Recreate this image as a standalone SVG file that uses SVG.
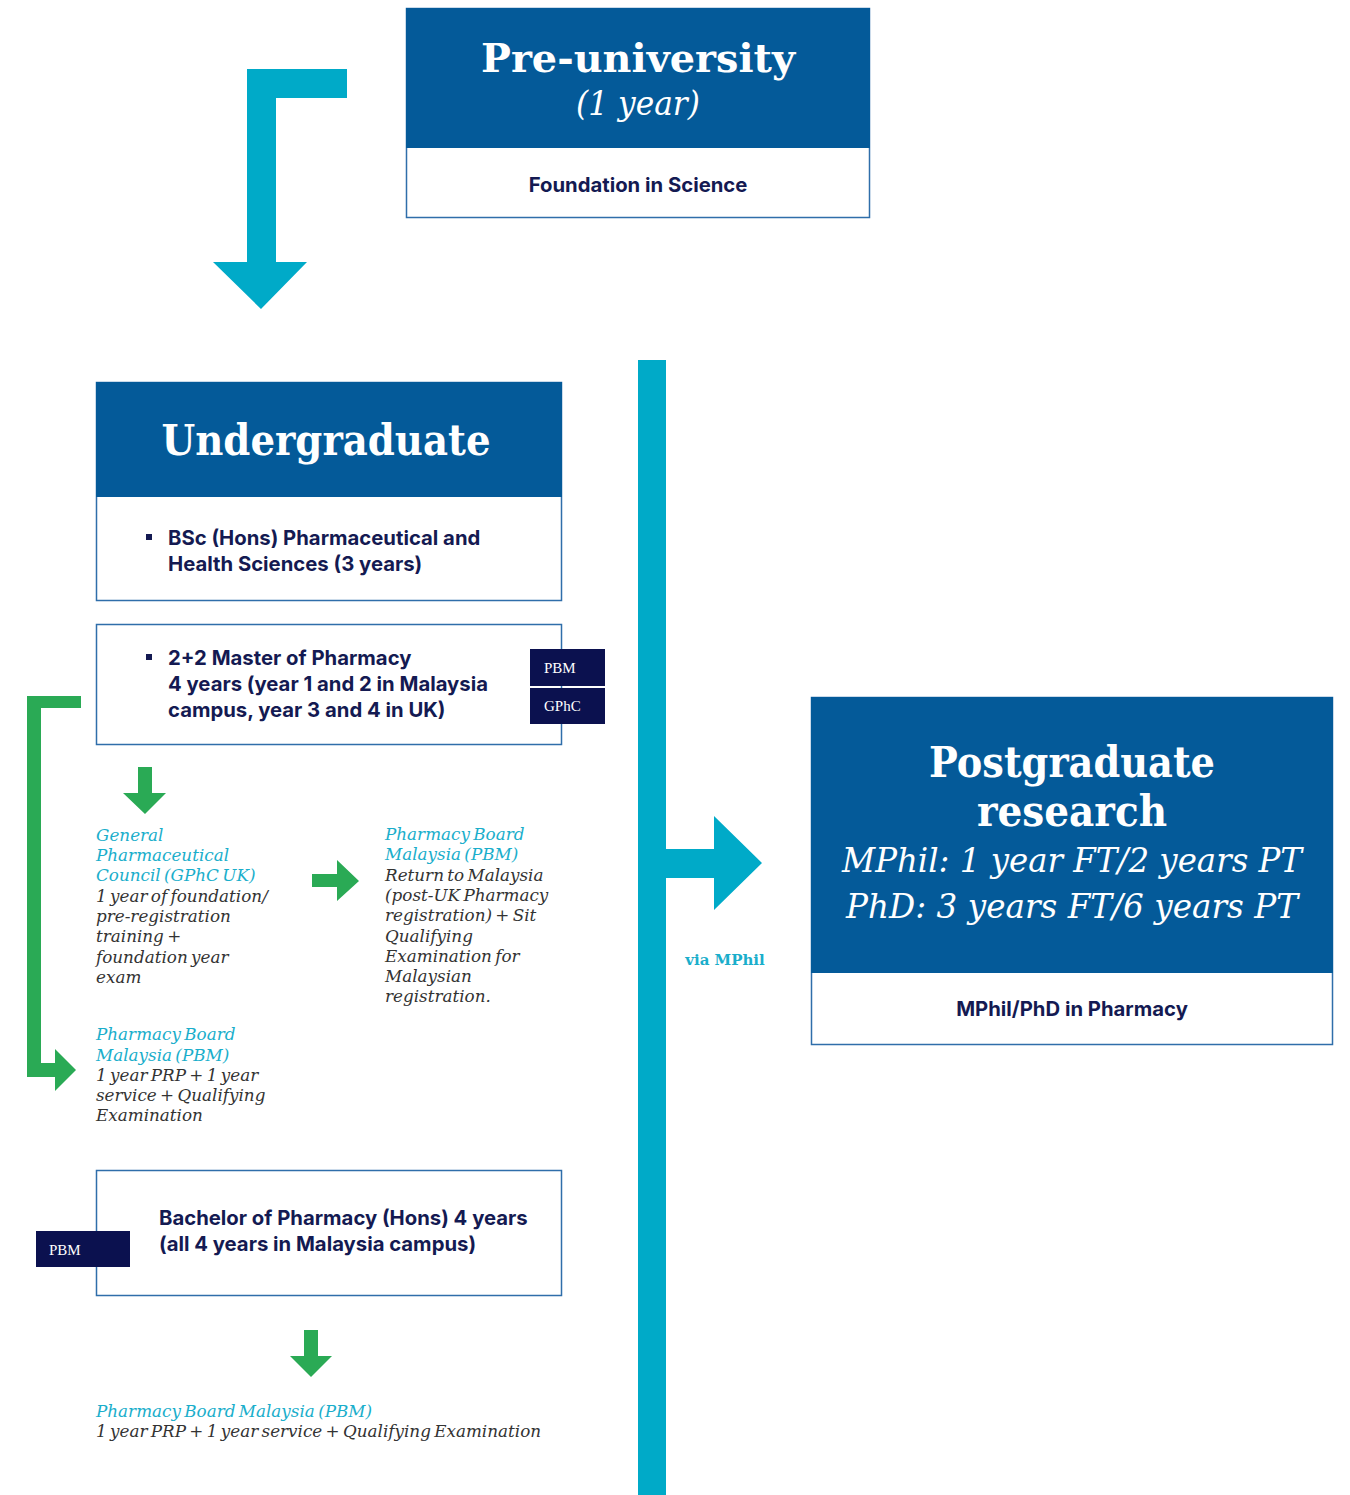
<svg xmlns="http://www.w3.org/2000/svg" width="1350" height="1495" viewBox="0 0 1350 1495">
<style>
.hdr{fill:#045a99}
.box{fill:#fff;stroke:#2f6eaa;stroke-width:1.5}
.title{font-family:"DejaVu Serif",serif;font-weight:bold;fill:#fff;text-anchor:middle}
.sub{font-family:"DejaVu Serif",serif;font-style:italic;fill:#fff;text-anchor:middle}
.body{font-family:Inter,"Noto Sans",sans-serif;font-weight:700;fill:#141a52;font-size:20.3px}
.badge{fill:#0b114f}
.btxt{font-family:"Liberation Serif",serif;fill:#fff;font-size:15px}
.it{font-family:"DejaVu Serif",serif;font-style:italic;font-size:16.8px;word-spacing:-2px}
.cy{fill:#1aaecb}
.dk{fill:#333}
.cyan{fill:#00aac8}
.green{fill:#2aaa55}
</style>

<g id="connectors">
  <path class="cyan" d="M247,69 H347 V98 H276 V262 H307 L261,309 L213,262 H247 Z"/>
  <rect class="cyan" x="638" y="360" width="28" height="1135"/>
  <path class="cyan" d="M666,849 H714 V816 L762,863 L714,910 V878 H666 Z"/>
  <path class="green" d="M27,696 H81 V708 H41 V1063 H55 V1049 L76,1070 L55,1091 V1077 H27 Z"/>
  <path class="green" d="M138,767 H152 V793 H166 L145,814 L123,793 H138 Z"/>
  <path class="green" d="M312,874 H337 V860 L359,881 L337,901 V887 H312 Z"/>
  <path class="green" d="M304,1330 H318 V1356 H332 L311,1377 L290,1356 H304 Z"/>
  <text x="725" y="965" font-family="DejaVu Serif,serif" font-weight="bold" font-size="15" fill="#1aaecb" text-anchor="middle">via MPhil</text>
</g>

<g id="pre-university">
  <rect class="box" x="406.5" y="8.5" width="463" height="209"/>
  <rect class="hdr" x="406" y="8" width="464" height="140"/>
  <text class="title" x="638" y="72" font-size="40" textLength="314" lengthAdjust="spacingAndGlyphs">Pre-university</text>
  <text class="sub" x="638" y="115" font-size="33" textLength="124" lengthAdjust="spacingAndGlyphs">(1 year)</text>
  <text class="body" x="638" y="192" text-anchor="middle">Foundation in Science</text>
</g>

<g id="undergraduate">
  <rect class="box" x="96.5" y="382.5" width="465" height="218"/>
  <rect class="hdr" x="96" y="382" width="466" height="115"/>
  <text class="title" x="326" y="455" font-size="42" textLength="329" lengthAdjust="spacingAndGlyphs">Undergraduate</text>
  <rect x="146" y="534" width="6" height="6" fill="#141a52"/>
  <text class="body" x="168" y="545">BSc (Hons) Pharmaceutical and</text>
  <text class="body" x="168" y="571">Health Sciences (3 years)</text>
</g>

<g id="master">
  <rect class="box" x="96.5" y="624.5" width="465" height="120"/>
  <rect x="146" y="654" width="6" height="6" fill="#141a52"/>
  <text class="body" x="168" y="665">2+2 Master of Pharmacy</text>
  <text class="body" x="168" y="691">4 years (year 1 and 2 in Malaysia</text>
  <text class="body" x="168" y="717">campus, year 3 and 4 in UK)</text>
</g>

<g id="badge-pbm-1">
  <rect class="badge" x="530" y="649" width="75" height="37"/>
  <text class="btxt" x="544" y="673">PBM</text>
</g>
<g id="badge-gphc">
  <rect class="badge" x="530" y="688" width="75" height="36"/>
  <text class="btxt" x="544" y="711">GPhC</text>
</g>

<g id="gphc-uk">
  <text class="it cy" x="96" y="841">General</text>
  <text class="it cy" x="96" y="861">Pharmaceutical</text>
  <text class="it cy" x="96" y="881">Council (GPhC UK)</text>
  <text class="it dk" x="96" y="902">1 year of foundation/</text>
  <text class="it dk" x="96" y="922">pre-registration</text>
  <text class="it dk" x="96" y="942">training +</text>
  <text class="it dk" x="96" y="963">foundation year</text>
  <text class="it dk" x="96" y="983">exam</text>
</g>

<g id="pbm-return">
  <text class="it cy" x="385" y="840">Pharmacy Board</text>
  <text class="it cy" x="385" y="860">Malaysia (PBM)</text>
  <text class="it dk" x="385" y="881">Return to Malaysia</text>
  <text class="it dk" x="385" y="901">(post-UK Pharmacy</text>
  <text class="it dk" x="385" y="921">registration) + Sit</text>
  <text class="it dk" x="385" y="942">Qualifying</text>
  <text class="it dk" x="385" y="962">Examination for</text>
  <text class="it dk" x="385" y="982">Malaysian</text>
  <text class="it dk" x="385" y="1002">registration.</text>
</g>

<g id="pbm-prp-1">
  <text class="it cy" x="96" y="1040">Pharmacy Board</text>
  <text class="it cy" x="96" y="1061">Malaysia (PBM)</text>
  <text class="it dk" x="96" y="1081">1 year PRP + 1 year</text>
  <text class="it dk" x="96" y="1101">service + Qualifying</text>
  <text class="it dk" x="96" y="1121">Examination</text>
</g>

<g id="bachelor">
  <rect class="box" x="96.5" y="1170.5" width="465" height="125"/>
  <text class="body" x="159" y="1225">Bachelor of Pharmacy (Hons) 4 years</text>
  <text class="body" x="159" y="1251">(all 4 years in Malaysia campus)</text>
</g>
<g id="badge-pbm-2">
  <rect class="badge" x="36" y="1231" width="94" height="36"/>
  <text class="btxt" x="49" y="1255">PBM</text>
</g>

<g id="pbm-prp-2">
  <text class="it cy" x="96" y="1417">Pharmacy Board Malaysia (PBM)</text>
  <text class="it dk" x="96" y="1437">1 year PRP + 1 year service + Qualifying Examination</text>
</g>

<g id="postgraduate">
  <rect class="box" x="811.5" y="697.5" width="521" height="347"/>
  <rect class="hdr" x="811" y="697" width="522" height="276"/>
  <text class="title" x="1072" y="777" font-size="42" textLength="286" lengthAdjust="spacingAndGlyphs">Postgraduate</text>
  <text class="title" x="1072" y="826" font-size="42" textLength="190" lengthAdjust="spacingAndGlyphs">research</text>
  <text class="sub" x="1072" y="872" font-size="34" textLength="460" lengthAdjust="spacingAndGlyphs">MPhil: 1 year FT/2 years PT</text>
  <text class="sub" x="1072" y="918" font-size="34" textLength="452" lengthAdjust="spacingAndGlyphs">PhD: 3 years FT/6 years PT</text>
  <text class="body" x="1072" y="1016" text-anchor="middle">MPhil/PhD in Pharmacy</text>
</g>
</svg>
